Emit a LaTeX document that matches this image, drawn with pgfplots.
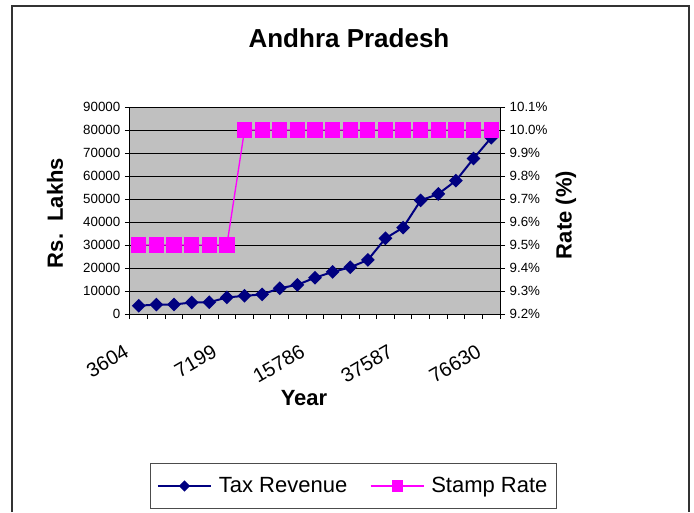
\documentclass[border=0pt]{standalone}
\usepackage{pgfplots}
\usepackage{pgfplotstable}
\pgfplotsset{compat=1.18}
\usepackage{fontspec}
\setmainfont{Liberation Sans}
\definecolor{plotgray}{HTML}{C0C0C0}
\definecolor{navyc}{HTML}{000080}
\definecolor{pinkc}{HTML}{FF00FF}
\definecolor{framec}{HTML}{333333}

\pgfplotstableread{
idx tax rate
0 3604 9.5
1 4100 9.5
2 4150 9.5
3 5000 9.5
4 5100 9.5
5 7199 9.5
6 7900 10.0
7 8500 10.0
8 11200 10.0
9 12700 10.0
10 15786 10.0
11 18300 10.0
12 20300 10.0
13 23500 10.0
14 32900 10.0
15 37587 10.0
16 49400 10.0
17 52200 10.0
18 58000 10.0
19 67600 10.0
20 76630 10.0
}\datatable

\pgfplotsset{
  common/.style={
    at={(97.5pt,-235.5pt)}, anchor=south west,
    width=277.5pt, height=155.25pt, scale only axis,
    xmin=-0.5, xmax=20.5,
    /pgf/number format/assume math mode=true,
    tick align=outside,
    major tick length=0pt,
    minor tick length=3.75pt,
    every tick/.style={black, line width=0.75pt},
    axis line style={black, line width=0.75pt},
    yticklabel style={font=\fontsize{10}{12}\selectfont, xshift=0pt},
    scaled y ticks=false,
  }
}

\begin{document}
\begin{tikzpicture}
\path[use as bounding box] (0,0) rectangle (520.5pt,-384pt);
\draw[framec, line width=1.5pt] (9pt,-384pt) -- (9pt,-4.5pt) -- (516.75pt,-4.5pt) -- (516.75pt,-384pt);

\begin{axis}[common,
  ymin=0, ymax=90000,
  ytick={0,10000,20000,30000,40000,50000,60000,70000,80000,90000},
  minor ytick={0,10000,20000,30000,40000,50000,60000,70000,80000,90000},
  yticklabel style={/pgf/number format/1000 sep={}, xshift=-3.75pt},
  ytick pos=left, xtick pos=lower,
  ymajorgrids,
  major grid style={black, line width=0.75pt},
  axis background/.style={fill=plotgray},
  xtick={0,5,10,15,20},
  xticklabels={3604,7199,15786,37587,76630},
  minor xtick={-0.5,0.5,...,20.5},
  xticklabel style={font=\fontsize{15}{18}\selectfont, xshift=-10.5pt, yshift=-17.5pt, rotate=30, anchor=north east},
]
\addplot[navyc, line width=1.5pt, mark=square*, mark size=2.9pt,
  mark options={rotate=45, fill=navyc, draw=navyc, solid}] table[x=idx,y=tax]{\datatable};
\end{axis}

\begin{axis}[common,
  ymin=9.2, ymax=10.1,
  ytick={9.2,9.3,9.4,9.5,9.6,9.7,9.8,9.9,10.0,10.1},
  minor ytick={9.2,9.3,9.4,9.5,9.6,9.7,9.8,9.9,10.0,10.1},
  yticklabel style={xshift=3.75pt},
  axis y line*=right, axis x line=none,
  yticklabel={\pgfmathprintnumber[fixed,fixed zerofill,precision=1]{\tick}\%},
  legend columns=2,
  legend style={at={(0.604,-0.8309)}, anchor=center, draw=black!70, line width=0.75pt,
    font=\fontsize{16.5}{19}\selectfont, inner xsep=5pt, inner ysep=8pt,
    /tikz/every even column/.append style={column sep=15pt},
    /tikz/every odd column/.append style={column sep=3pt}},
  legend cell align=left,
  legend image code/.code={\draw[mark repeat=2,mark phase=2] plot coordinates {(4pt,0pt) (24pt,0pt) (44pt,0pt)};},
]
\addlegendimage{navyc, line width=1.5pt, mark=square*, mark size=2.2pt, mark options={rotate=45, fill=navyc, solid}}
\addlegendentry{Tax Revenue}
\addlegendimage{pinkc, line width=1pt, mark=square*, mark size=3.8pt, mark options={fill=pinkc, solid}}
\addlegendentry{Stamp Rate}
\addplot[pinkc, line width=1pt, mark=square*, mark size=5.2pt,
  mark options={fill=pinkc, draw=pinkc, solid}, forget plot] table[x=idx,y=rate]{\datatable};
\end{axis}

\node[font=\fontsize{19.5}{23}\selectfont\bfseries] at (261.75pt,-28.5pt) {Andhra Pradesh};
\node[rotate=90, font=\fontsize{16.5}{20}\selectfont\bfseries] at (41.25pt,-159.75pt) {Rs.\ \ Lakhs};
\node[rotate=90, font=\fontsize{16.5}{20}\selectfont\bfseries] at (424.5pt,-161.25pt) {Rate (\%)};
\node[font=\fontsize{16.5}{20}\selectfont\bfseries] at (228pt,-298.5pt) {Year};
\end{tikzpicture}
\end{document}
